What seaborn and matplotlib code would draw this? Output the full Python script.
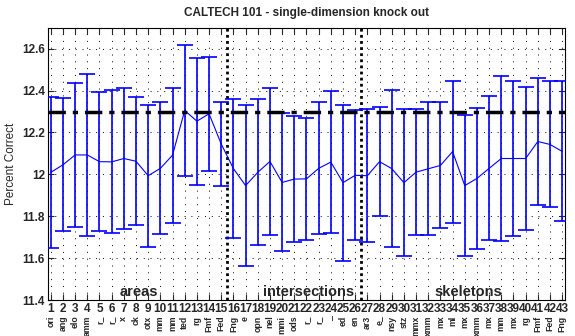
import matplotlib
matplotlib.use("Agg")
import matplotlib.pyplot as plt
import seaborn as sns
import numpy as np
import pandas as pd

positions = list(range(1, 44))
means = [12.010, 12.046, 12.093, 12.093, 12.061, 12.060, 12.076, 12.063, 11.994, 12.029,
         12.092, 12.305, 12.254, 12.289, 12.145, 12.028, 11.947, 12.010, 12.062, 11.962,
         11.978, 11.979, 12.029, 12.059, 11.961, 11.996, 11.994, 12.061, 12.028, 11.961,
         12.011, 12.027, 12.043, 12.109, 11.947, 11.981, 12.029, 12.076, 12.076, 12.076,
         12.157, 12.143, 12.110]
errors = [0.359, 0.317, 0.345, 0.388, 0.332, 0.341, 0.338, 0.306, 0.339, 0.315,
          0.321, 0.310, 0.302, 0.273, 0.199, 0.333, 0.385, 0.348, 0.352, 0.329,
          0.302, 0.289, 0.315, 0.339, 0.371, 0.310, 0.318, 0.261, 0.376, 0.351,
          0.301, 0.317, 0.300, 0.338, 0.337, 0.338, 0.343, 0.395, 0.371, 0.343,
          0.303, 0.300, 0.334]
feature_labels = ["ori", "ang", "elo", "amm", "r_", "r_", "x", "ck", "otx", "mm",
                  "mm", "ted", "rg", "Fmf", "Fed", "Fng", "e", "opn", "nel", "mmi",
                  "ods", "r_", "r_", "_", "ed", "en", "ar3", "e_", "nsy", "stz",
                  "mmx", "xmm", "mx", "ml", "mx", "xmm", "mx", "mm", "mx", "rg",
                  "Fmf", "Fed", "Fng"]
baseline = 12.3
group_bounds = [15.5, 26.5]
group_names = ["areas", "intersections", "skeletons"]
group_centers = [8.2, 22.2, 35.3]

df = pd.DataFrame({"pos": positions, "mean": means, "err": errors})

sns.set_style("white")
plt.rcParams['font.family'] = ['Liberation Sans', 'DejaVu Sans']

fig = plt.figure(figsize=(5.75, 3.36), dpi=100)
ax = fig.add_axes([0.083, 0.106, 0.9, 0.812])

ax.errorbar(df["pos"], df["mean"], yerr=df["err"], fmt="none", ecolor="#0000ff",
            elinewidth=1.2, capsize=5.5, capthick=1.2, zorder=3)
sns.lineplot(data=df, x="pos", y="mean", ax=ax, color="#0000ff", linewidth=0.8, zorder=4)

ax.axhline(baseline, color="black", linewidth=2.5, linestyle=(0, (5, 2, 1.5, 2)), zorder=5)
for b in group_bounds:
    ax.axvline(b, color="black", linewidth=2.0, linestyle=(0, (1, 1.2)), zorder=2)

ax.set_xlim(0.75, 43.25)
ax.set_ylim(11.4, 12.7)
ax.set_xticks(positions)
ax.set_xticklabels([str(p) for p in positions], fontsize=8.5, fontweight="bold")
yt = [11.4, 11.6, 11.8, 12.0, 12.2, 12.4, 12.6]
ax.set_yticks(yt)
ax.set_yticklabels(["11.4", "11.6", "11.8", "12", "12.2", "12.4", "12.6"],
                   fontsize=8.5, fontweight="bold")
ax.tick_params(direction="in", top=True, right=True, length=4, width=0.8,
               bottom=True, left=True, pad=2)
ax.grid(True, color="black", linestyle=(0, (1, 6)), linewidth=0.7)
for s in ax.spines.values():
    s.set_linewidth(0.8)
    s.set_color("black")

ax.set_xlabel("")
ax.set_ylabel("Percent Correct", fontsize=8.5)
ax.set_title("CALTECH 101 - single-dimension knock out", fontsize=8.5, fontweight="bold", pad=8)

for name, cx in zip(group_names, group_centers):
    ax.text(cx, 11.405, name, ha="center", va="bottom", fontsize=10.5, fontweight="bold")

for p, lab in zip(positions, feature_labels):
    ax.text(p, -0.056, lab, transform=ax.get_xaxis_transform(), rotation=90,
            ha="center", va="top", fontsize=6.3, fontweight="bold", clip_on=False)

fig.savefig("out.png", dpi=100)
